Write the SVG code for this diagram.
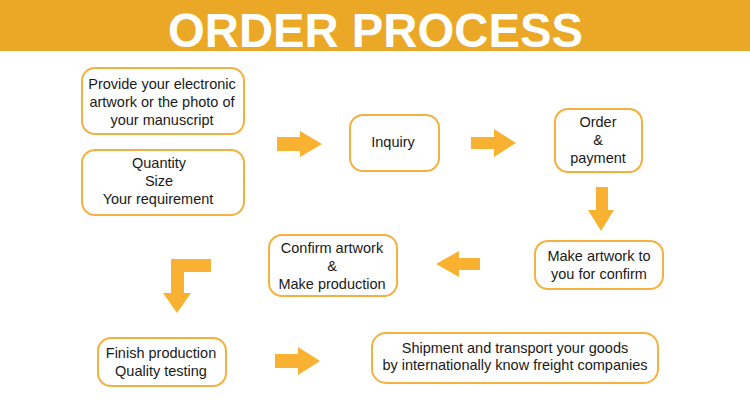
<svg xmlns="http://www.w3.org/2000/svg" width="750" height="400" viewBox="0 0 750 400">
<style>
.box{fill:#fff;stroke:#F4B13F;stroke-width:2}
.t{font-family:"Liberation Sans",Arial,sans-serif;font-size:14.5px;fill:#1a1a1a;text-anchor:middle}
.arr{fill:#F9B131}
.title{font-family:"Liberation Sans",Arial,sans-serif;font-weight:bold;font-size:48px;fill:#fff;text-anchor:middle}
</style>
<rect x="0" y="0" width="750" height="400" fill="#fff"/>
<rect x="0" y="0" width="750" height="51" fill="#EAA826"/>
<text class="title" x="375.5" y="47" textLength="415" lengthAdjust="spacingAndGlyphs">ORDER PROCESS</text>

<g id="n-provide">
<rect class="box" x="82" y="68" width="162" height="66" rx="13"/>
<text class="t" x="162" y="89">Provide your electronic</text>
<text class="t" x="162" y="107">artwork or the photo of</text>
<text class="t" x="162" y="125">your manuscript</text>
</g>
<g id="n-quantity">
<rect class="box" x="82" y="150" width="162" height="65" rx="13"/>
<text class="t" x="159" y="168">Quantity</text>
<text class="t" x="159" y="186">Size</text>
<text class="t" x="158" y="204">Your requirement</text>
</g>
<g id="n-inquiry">
<rect class="box" x="350" y="115" width="89" height="56" rx="13"/>
<text class="t" x="393" y="147">Inquiry</text>
</g>
<g id="n-order">
<rect class="box" x="555" y="109" width="87" height="63" rx="13"/>
<text class="t" x="598" y="127">Order</text>
<text class="t" x="598" y="145">&amp;</text>
<text class="t" x="598" y="163">payment</text>
</g>
<g id="n-make">
<rect class="box" x="535" y="241" width="128" height="48" rx="13"/>
<text class="t" x="599" y="261">Make artwork to</text>
<text class="t" x="599" y="279">you for confirm</text>
</g>
<g id="n-confirm">
<rect class="box" x="269" y="235" width="128" height="61" rx="13"/>
<text class="t" x="332" y="253">Confirm artwork</text>
<text class="t" x="332" y="271">&amp;</text>
<text class="t" x="332" y="289">Make production</text>
</g>
<g id="n-finish">
<rect class="box" x="98" y="338" width="128" height="48" rx="13"/>
<text class="t" x="161" y="358">Finish production</text>
<text class="t" x="161" y="376">Quality testing</text>
</g>
<g id="n-ship">
<rect class="box" x="372" y="333" width="286" height="50" rx="14"/>
<text class="t" x="515" y="353">Shipment and transport your goods</text>
<text class="t" x="515" y="370">by internationally know freight companies</text>
</g>

<g id="connectors">
<polygon class="arr" points="277,137 300,137 300,131 322,144 300,157 300,151 277,151"/>
<polygon class="arr" points="471,137 494,137 494,129 516,143 494,157 494,149 471,149"/>
<polygon class="arr" points="596,187 608,187 608,210 614,210 601,231 588,210 596,210"/>
<polygon class="arr" points="480,258 459,258 459,251 436,264 459,277 459,270 480,270"/>
<polygon class="arr" points="211,259 211,272 184,272 184,293 191,293 177,313 163,293 171,293 171,259"/>
<polygon class="arr" points="275,354 298,354 298,347 320,361 298,375 298,368 275,368"/>
</g>
</svg>
